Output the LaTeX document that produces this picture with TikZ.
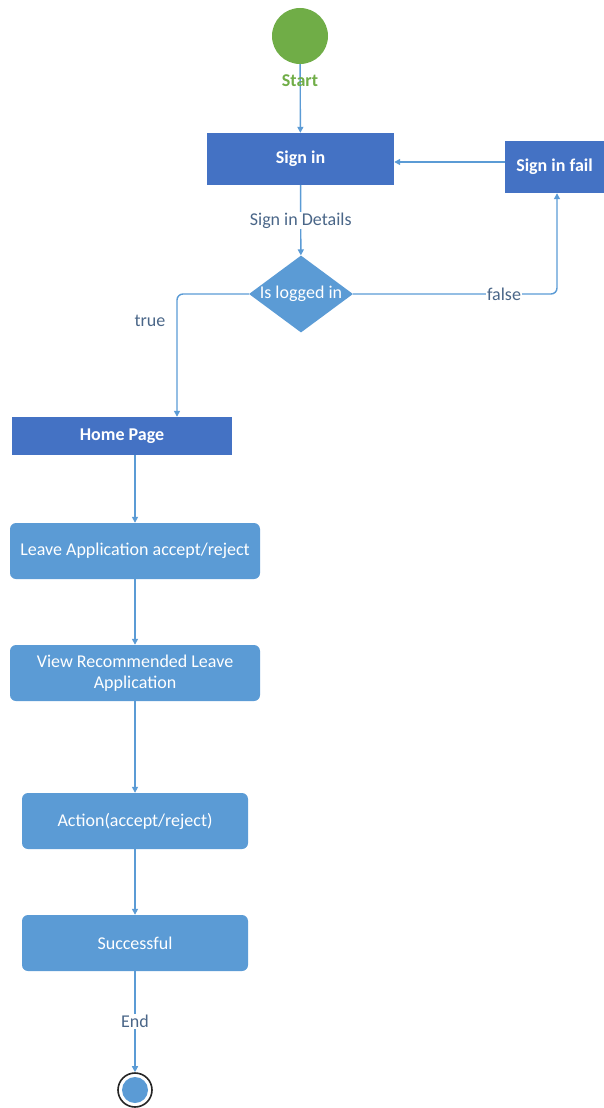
\documentclass[tikz,border=0pt]{standalone}
\usepackage{fontspec}
\setmainfont{Carlito}
\usetikzlibrary{shapes.geometric,arrows.meta}
\definecolor{darkblue}{HTML}{4472C4}
\definecolor{lightblue}{HTML}{5B9BD5}
\definecolor{startgreen}{HTML}{70AD47}
\definecolor{lbltext}{HTML}{4A6688}
\tikzset{
  conn/.style={draw=lightblue, line width=1.4pt, -{Triangle[length=6pt,width=6pt]}},
  hbox/.style={rectangle, fill=darkblue, text=white, font=\fontsize{18}{21}\selectfont\bfseries, inner sep=0pt},
  rbox/.style={rectangle, rounded corners=6pt, fill=lightblue, text=white, font=\fontsize{18}{21}\selectfont, inner sep=0pt, align=center, minimum width=250pt, minimum height=56pt},
  lbl/.style={text=lbltext, font=\fontsize{18}{21}\selectfont, inner sep=1pt}
}
\begin{document}
\begin{tikzpicture}[x=1pt,y=-1pt]
\useasboundingbox (0,0) rectangle (604,1108);
\node[circle, fill=startgreen, minimum size=56pt, inner sep=0pt] (start) at (300,36) {};
\node[hbox, minimum width=187pt, minimum height=52pt] (signin) at (300.5,159) {Sign in};
\node[hbox, minimum width=99pt, minimum height=52pt] (signfail) at (554.5,167) {Sign in fail};
\node[diamond, fill=lightblue, text=white, font=\fontsize{18}{21}\selectfont, inner sep=0pt, aspect=1.35, minimum width=104pt, minimum height=77pt] (dec) at (301,294) {Is logged in};
\node[hbox, minimum width=220pt, minimum height=38pt] (home) at (122,436) {Home Page};
\node[rbox] (leave) at (135,551) {Leave Application accept/reject};
\node[rbox] (view) at (135,673) {View Recommended Leave\\Application};
\node[rbox, minimum width=226pt] (action) at (135,821) {Action(accept/reject)};
\node[rbox, minimum width=226pt] (succ) at (135,943) {Successful};
\node[circle, draw=black!85, line width=1.6pt, fill=white, minimum size=34pt, inner sep=0pt] (endc) at (135,1090) {};
\node[circle, fill=lightblue, minimum size=26pt, inner sep=0pt] (endin) at (endc) {};

\draw[conn] (start) -- (signin);
\node[text=startgreen, font=\fontsize{18}{21}\selectfont\bfseries, inner sep=0pt] (startlbl) at (300,81) {Start};
\draw[conn] (signin) -- node[lbl, fill=white] {Sign in Details} (dec);
\draw[conn, rounded corners=6pt] (dec.east) -| node[lbl, fill=white, pos=0.37] {false} ([xshift=2.5pt]signfail.south);
\draw[conn] ([yshift=5pt]signfail.west) -- ([yshift=5pt]signfail.west -| signin.east);
\draw[conn, rounded corners=6pt] (dec.west) -| ([xshift=55pt]home.north);
\node[lbl] (truelbl) at (150,321) {true};
\draw[conn] ([xshift=13pt]home.south) -- (leave);
\draw[conn] (leave) -- (view);
\draw[conn] (view) -- (action);
\draw[conn] (action) -- (succ);
\draw[conn] (succ) -- node[lbl, fill=white] {End} (endc);
\end{tikzpicture}
\end{document}
